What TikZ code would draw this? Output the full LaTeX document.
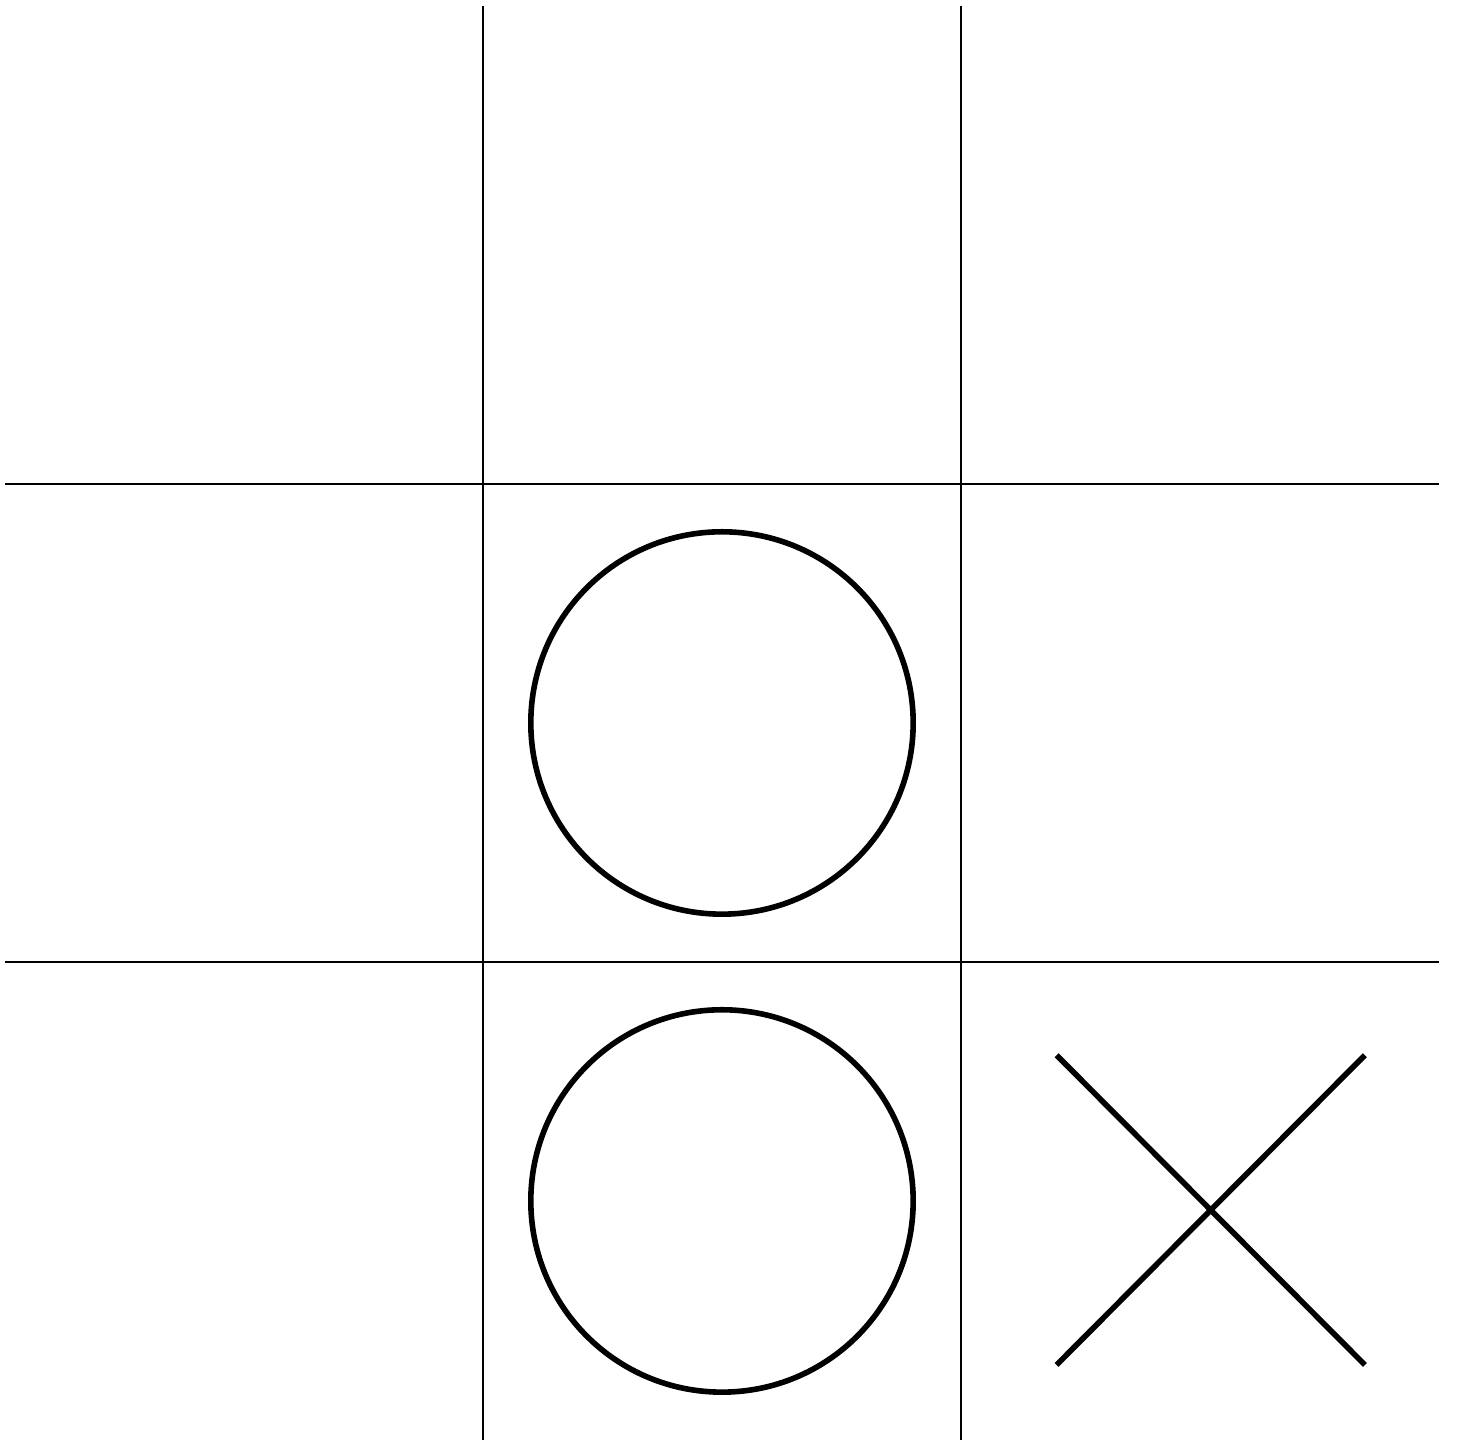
\documentclass[tikz,border=0pt]{standalone}
\usepackage{tikz}
\usetikzlibrary{calc}

\tikzset{
  griglia/.style={line width=0.4pt},
  segno/.style={line width=1pt}
}

\begin{document}
\begin{tikzpicture}[x=3cm, y=3cm]
\useasboundingbox (-0.0105,-0.0126) rectangle (3.0377,3.0126);

% --- Griglia del tris ---
\foreach \k in {1,2}{
  \draw[griglia] (\k,0) -- (\k,3);
  \draw[griglia] (0,\k) -- (3,\k);
}

% --- Cerchi (O) ---
\foreach \y in {1.5,0.5}{
  \draw[segno] (1.5,\y) circle (0.4);
}

% --- Croce (X) ---
\draw[segno] (2.2,0.805) -- (2.845,0.157);
\draw[segno] (2.2,0.157) -- (2.845,0.805);

\end{tikzpicture}
\end{document}
